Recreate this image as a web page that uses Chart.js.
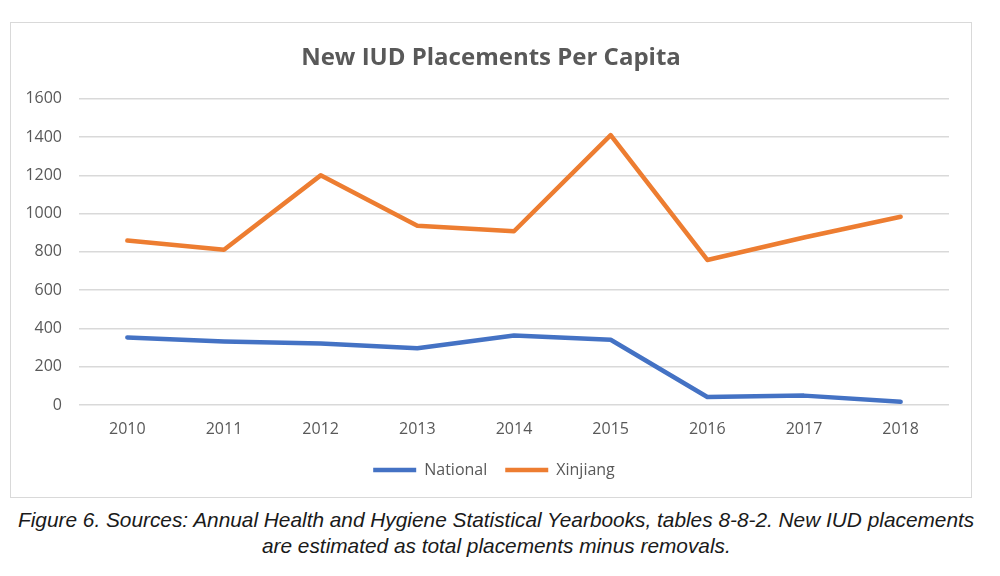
<!DOCTYPE html>
<html>
<head>
<meta charset="utf-8">
<script src="https://cdn.jsdelivr.net/npm/chart.js@4/dist/chart.umd.min.js"></script>
<style>
  body { margin: 0; background: #fff; width: 1000px; height: 576px; overflow: hidden; position: relative; }
  #box { position: absolute; left: 10px; top: 22px; width: 960px; height: 474px; border: 1px solid #d9d9d9; }
  #cap { position: absolute; left: -4px; top: 507px; width: 1000px; text-align: center;
         font: italic 21px "Liberation Sans", Arial, sans-serif; line-height: 26px; color: #1a1a1a; }
  #cap span { display: inline-block; white-space: nowrap; transform-origin: center; }
</style>
</head>
<body>
<div id="box"><canvas id="chart" width="960" height="474"></canvas></div>
<div id="cap">
  <span id="l1">Figure 6. Sources: Annual Health and Hygiene Statistical Yearbooks, tables 8-8-2. New IUD placements</span><br>
  <span id="l2">are estimated as total placements minus removals.</span>
</div>
<script>
// values
const years = ['2010', '2011', '2012', '2013', '2014', '2015', '2016', '2017', '2018'];
const national = [353, 332, 321, 297, 363, 341, 42, 49, 17];
const xinjiang = [859, 811, 1200, 937, 908, 1410, 758, 875, 984];
const yMin = 0, yMax = 1600, yStep = 200;

const grey = '#595959';
const font = "'Open Sans', sans-serif";

// nudge title and legend a little right, like the original
const boxShift = {
    id: 'boxShift',
    afterLayout(chart) {
        chart.legend.left += 14;
        chart.legend.right += 14;
        chart.titleBlock.left += 11;
        chart.titleBlock.right += 11;
    }
};

const ctx = document.getElementById('chart').getContext('2d');
const chart = new Chart(ctx, {
    type: 'line',
    data: {
        labels: years,
        datasets: [{
            label: 'National',
            data: national,
            borderColor: '#4472C4',
            backgroundColor: '#4472C4',
            borderWidth: 4.5,
            borderCapStyle: 'round',
            borderJoinStyle: 'round',
            pointRadius: 0,
            tension: 0
        }, {
            label: 'Xinjiang',
            data: xinjiang,
            borderColor: '#ED7D31',
            backgroundColor: '#ED7D31',
            borderWidth: 4.5,
            borderCapStyle: 'round',
            borderJoinStyle: 'round',
            pointRadius: 0,
            tension: 0
        }]
    },
    options: {
        responsive: false,
        animation: false,
        devicePixelRatio: 1,
        layout: { padding: { left: 0, right: 22, top: 0, bottom: 9 } },
        plugins: {
            title: {
                display: true,
                text: 'New IUD Placements Per Capita',
                color: grey,
                font: { family: font, size: 24, weight: 'bold' },
                padding: { top: 21, bottom: 26 }
            },
            legend: {
                position: 'bottom',
                labels: {
                    usePointStyle: true,
                    pointStyle: 'line',
                    pointStyleWidth: 43,
                    color: grey,
                    font: { family: font, size: 16 },
                    padding: 18
                }
            },
            tooltip: { enabled: false }
        },
        scales: {
            x: {
                offset: true,
                grid: { display: false },
                border: { display: false },
                ticks: { color: grey, font: { family: font, size: 16 }, padding: 7 },
                afterFit: s => { s.height = 39; }
            },
            y: {
                min: yMin,
                max: yMax,
                grid: { color: '#d9d9d9', lineWidth: 1.5, drawTicks: false },
                border: { display: false },
                ticks: {
                    stepSize: yStep,
                    color: grey,
                    font: { family: font, size: 16 },
                    padding: 17,
                    callback: v => String(v)
                },
                afterFit: s => { s.width = 68; }
            }
        }
    },
    plugins: [boxShift]
});

// squeeze the caption to the narrow width of the original
const w1 = document.getElementById('l1').offsetWidth;
const k = 956 / w1;
['l1', 'l2'].forEach(id => {
    document.getElementById(id).style.transform = 'scaleX(' + k + ')';
});
</script>
</body>
</html>
